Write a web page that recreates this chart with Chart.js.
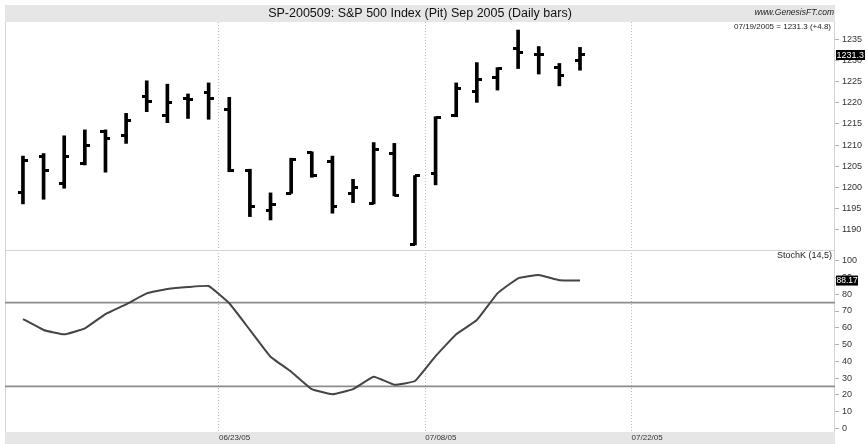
<!DOCTYPE html>
<html>
<head>
<meta charset="utf-8">
<script src="https://cdn.jsdelivr.net/npm/chart.js@4/dist/chart.umd.min.js"></script>
<style>
  html, body { margin: 0; padding: 0; background: #fff; }
  #wrap { position: relative; width: 866px; height: 444px; }
</style>
</head>
<body>
<div id="wrap"><canvas id="c" width="866" height="444"></canvas></div>
<script>
// daily bars, index 0 = 06/09/05 ... index 27 = 07/19/05
const opens  = [1198.8, 1207.4, 1201.0, 1205.7, 1213.2, 1212.2, 1221.6, 1216.9, 1220.9, 1222.5,
                1218.5, 1204.1, 1194.6, 1198.6, 1208.3, 1206.2, 1198.6, 1196.2, 1207.9, 1186.6,
                1203.2, 1216.9, 1222.6, 1226.0, 1232.9, 1231.5, 1228.3, 1230.1];
const highs  = [1207.4, 1208.0, 1212.2, 1213.6, 1213.6, 1217.5, 1225.2, 1224.4, 1222.1, 1224.7,
                1221.3, 1204.3, 1198.7, 1206.9, 1208.4, 1207.4, 1201.9, 1210.6, 1210.4, 1202.8,
                1216.7, 1224.7, 1229.5, 1228.3, 1237.2, 1233.3, 1229.3, 1233.1];
const lows   = [1196.1, 1197.2, 1199.8, 1205.3, 1203.6, 1210.4, 1217.9, 1215.3, 1216.3, 1216.1,
                1203.7, 1193.1, 1192.3, 1198.6, 1202.4, 1193.9, 1196.4, 1196.1, 1198.0, 1186.4,
                1200.6, 1216.7, 1220.1, 1223.0, 1228.1, 1226.8, 1224.0, 1227.7];
const closes = [1206.3, 1203.9, 1207.4, 1210.0, 1211.6, 1215.7, 1220.3, 1220.0, 1220.7, 1221.1,
                1203.9, 1195.6, 1196.0, 1206.7, 1202.7, 1195.4, 1200.0, 1209.0, 1198.2, 1202.8,
                1216.5, 1223.4, 1225.6, 1228.0, 1231.8, 1231.5, 1226.5, 1231.3];
const stochK = [65.2, 58.7, 56.1, 59.6, 68.2, 74.0, 80.5, 83.1, 84.3, 84.9,
                74.6, 58.7, 42.7, 33.8, 23.4, 20.3, 23.4, 30.8, 26.0, 28.2,
                43.1, 56.1, 64.6, 80.5, 89.5, 91.5, 88.4, 88.17];

const priceTicks  = [1190, 1195, 1200, 1205, 1210, 1215, 1220, 1225, 1230, 1235];
const stochTicks  = [0, 10, 20, 30, 40, 50, 60, 70, 80, 90, 100];
const stochLevels = [25, 75];
const dateTickPos = [9.5, 19.5, 29.5];
const dateLabels  = ['06/23/05', '07/08/05', '07/22/05'];
const lastDate    = '07/19/2005';

const FONT = "'Liberation Sans', Arial, sans-serif";

// open tick on the left, close tick on the right of each bar
function tickImg(side) {
  const c = document.createElement('canvas');
  c.width = 10; c.height = 3;
  const g = c.getContext('2d');
  g.fillStyle = '#000';
  g.fillRect(side === 'left' ? 0 : 5, 0, 5, 3);
  return c;
}

const idx = closes.map((_, i) => i);

const panels = {
  id: 'panels',
  beforeDraw(chart) {
    const { ctx, chartArea: a } = chart;
    ctx.save();
    ctx.fillStyle = '#e6e6e6';
    ctx.fillRect(a.left, 5, a.right - a.left, a.top - 5);
    ctx.fillRect(a.left, a.bottom, a.right - a.left, chart.height - a.bottom);
    ctx.restore();
  },
  beforeDatasetsDraw(chart) {
    const { ctx, chartArea: a, scales } = chart;
    const st = scales.stoch;
    ctx.save();
    // frame + separator
    ctx.strokeStyle = '#d4d4d4';
    ctx.lineWidth = 1;
    ctx.beginPath();
    ctx.moveTo(a.left + 0.5, a.top); ctx.lineTo(a.left + 0.5, a.bottom);
    ctx.moveTo(a.right - 0.5, a.top); ctx.lineTo(a.right - 0.5, a.bottom);
    ctx.moveTo(a.left, Math.round(st.top) + 0.5); ctx.lineTo(a.right, Math.round(st.top) + 0.5);
    ctx.stroke();
    // overbought / oversold levels
    ctx.strokeStyle = '#8c8c8c';
    ctx.lineWidth = 1.6;
    stochLevels.forEach(v => {
      const y = st.getPixelForValue(v);
      ctx.beginPath();
      ctx.moveTo(a.left, y); ctx.lineTo(a.right, y);
      ctx.stroke();
    });
    ctx.restore();
  },
  afterDraw(chart) {
    const { ctx, chartArea: a, scales } = chart;
    const pr = scales.price, st = scales.stoch;
    const last = closes[closes.length - 1];
    const chg = last - closes[closes.length - 2];
    const lastK = stochK[stochK.length - 1];
    ctx.save();
    ctx.textBaseline = 'middle';
    ctx.textAlign = 'right';
    ctx.fillStyle = '#222';
    ctx.font = 'italic 8.5px ' + FONT;
    ctx.fillText('www.GenesisFT.com', a.right - 1, 13);
    ctx.font = '8px ' + FONT;
    ctx.fillText(lastDate + ' = ' + last.toFixed(1) + ' (' + (chg >= 0 ? '+' : '') + chg.toFixed(1) + ')', a.right - 4, 27);
    ctx.font = '9px ' + FONT;
    ctx.fillText('StochK (14,5)', a.right - 3, st.top + 6);

    // last value boxes on the right axis
    ctx.textAlign = 'left';
    let y = pr.getPixelForValue(last);
    ctx.fillStyle = '#000';
    ctx.fillRect(a.right + 1, y - 5, 29, 10);
    ctx.fillStyle = '#fff';
    ctx.font = '9px ' + FONT;
    ctx.fillText(last.toFixed(1), a.right + 1.5, y + 0.5);
    y = st.getPixelForValue(lastK);
    ctx.fillStyle = '#000';
    ctx.fillRect(a.right + 1, y - 5, 22, 10);
    ctx.fillStyle = '#fff';
    ctx.font = '8.5px ' + FONT;
    ctx.fillText(lastK.toFixed(2), a.right + 1.5, y + 0.5);
    ctx.restore();
  }
};

new Chart(document.getElementById('c'), {
  type: 'bar',
  data: {
    datasets: [
      {
        label: 'range',
        data: idx.map(i => ({ x: i, y: [lows[i], highs[i]] })),
        yAxisID: 'price',
        backgroundColor: '#000',
        borderWidth: 0,
        barThickness: 3,
        order: 2
      },
      {
        type: 'scatter',
        label: 'open',
        data: idx.map(i => ({ x: i, y: opens[i] })),
        yAxisID: 'price',
        pointStyle: tickImg('left'),
        order: 1
      },
      {
        type: 'scatter',
        label: 'close',
        data: idx.map(i => ({ x: i, y: closes[i] })),
        yAxisID: 'price',
        pointStyle: tickImg('right'),
        order: 1
      },
      {
        type: 'line',
        label: 'StochK (14,5)',
        data: idx.map(i => ({ x: i, y: stochK[i] })),
        yAxisID: 'stoch',
        borderColor: '#454545',
        borderWidth: 2,
        pointRadius: 0,
        tension: 0.1,
        fill: false,
        order: 0
      }
    ]
  },
  options: {
    responsive: false,
    animation: false,
    events: [],
    layout: { padding: { top: 5, left: 5, right: 0, bottom: 0 } },
    plugins: {
      legend: { display: false },
      tooltip: { enabled: false },
      title: {
        display: true,
        fullSize: false,
        text: 'SP-200509: S&P 500 Index (Pit) Sep 2005 (Daily bars)',
        color: '#111',
        font: { family: FONT, size: 12.5, weight: 'normal', lineHeight: 1.2 },
        padding: { top: 1, bottom: 1 }
      }
    },
    scales: {
      x: {
        type: 'linear',
        min: -0.87,
        max: 39.36,
        offset: false,
        afterBuildTicks: s => { s.ticks = dateTickPos.map(v => ({ value: v })); },
        afterFit: s => { s.height = 12; },
        ticks: {
          align: 'start',
          padding: 1,
          color: '#333',
          font: { family: FONT, size: 8 },
          maxRotation: 0,
          autoSkip: false,
          callback: (v, i) => dateLabels[i]
        },
        grid: { offset: false, color: '#bdbdbd', lineWidth: 1, drawTicks: false },
        border: { display: false, dash: [1, 2] }
      },
      price: {
        type: 'linear',
        position: 'right',
        stack: 'panels',
        stackWeight: 228,
        min: 1185.2,
        max: 1239.1,
        afterBuildTicks: s => { s.ticks = priceTicks.map(v => ({ value: v })); },
        afterFit: s => { s.width = 31; },
        ticks: { color: '#333', padding: 3, autoSkip: false, font: { family: FONT, size: 9 }, callback: v => String(v) },
        grid: { drawOnChartArea: false, tickLength: 4, color: '#b0b0b0' },
        border: { display: false }
      },
      stoch: {
        type: 'linear',
        position: 'right',
        stack: 'panels',
        stackWeight: 182,
        min: -2.2,
        max: 106.4,
        afterBuildTicks: s => { s.ticks = stochTicks.map(v => ({ value: v })); },
        afterFit: s => { s.width = 31; },
        ticks: { color: '#333', padding: 3, autoSkip: false, font: { family: FONT, size: 9 }, callback: v => String(v) },
        grid: { drawOnChartArea: false, tickLength: 4, color: '#b0b0b0' },
        border: { display: false }
      }
    }
  },
  plugins: [panels]
});
</script>
</body>
</html>
